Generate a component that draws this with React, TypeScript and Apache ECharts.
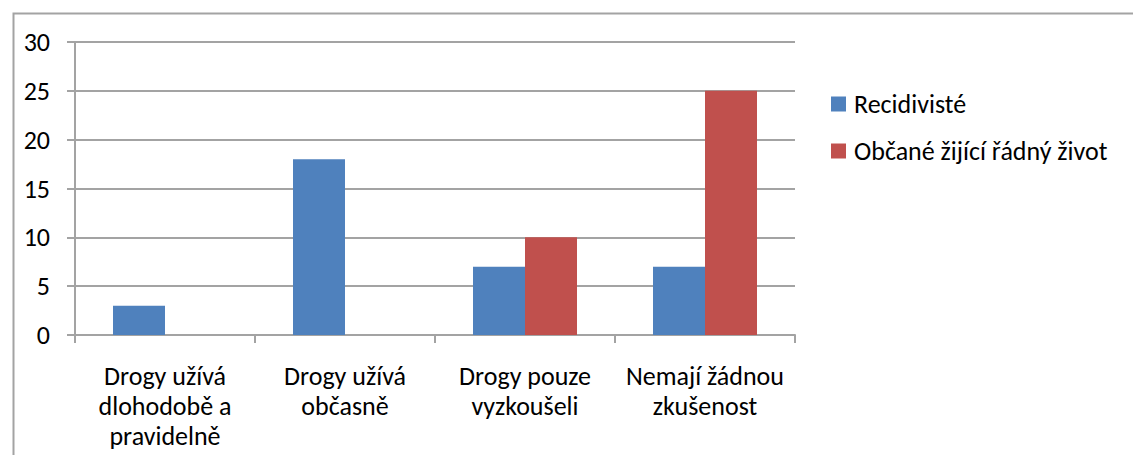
import React, { useEffect, useRef } from "react";
import * as echarts from "echarts";

const categories = [
  "Drogy užívá\ndlohodobě a\npravidelně",
  "Drogy užívá\nobčasně",
  "Drogy pouze\nvyzkoušeli",
  "Nemají žádnou\nzkušenost",
];
const recidivisteValues = [3, 18, 7, 7];
const obcaneValues = [0, 0, 10, 25];
const seriesNames = ["Recidivisté", "Občané žijící řádný život"];
const yMin = 0;
const yMax = 30;
const yInterval = 5;

const FONT = "Carlito, Calibri, Lato, sans-serif";
const GRAY = "#a3a3a3";

export default function App() {
  const ref = useRef<HTMLDivElement>(null);
  useEffect(() => {
    if (!ref.current) return;
    const chart = echarts.init(ref.current, undefined, { renderer: "svg" });
    chart.setOption({
      animation: false,
      backgroundColor: "#ffffff",
      textStyle: { fontFamily: FONT },
      grid: { left: 75, right: 338, top: 42, bottom: 120, containLabel: false },
      graphic: [
        {
          type: "rect",
          left: 11,
          top: 11,
          shape: { width: 1300, height: 700 },
          style: { fill: "none", stroke: GRAY, lineWidth: 2 },
          silent: true,
        },
      ],
      legend: {
        orient: "vertical",
        left: 826,
        top: 86,
        itemWidth: 15,
        itemHeight: 15,
        itemGap: 21,
        icon: "rect",
        data: seriesNames,
        textStyle: {
          fontFamily: FONT,
          fontSize: 26,
          color: "#000",
          lineHeight: 26,
          padding: [0, 0, 0, 3],
        },
      },
      xAxis: {
        type: "category",
        data: categories,
        axisLine: { show: true, lineStyle: { color: GRAY, width: 2 } },
        axisTick: { show: true, length: 8, lineStyle: { color: GRAY, width: 2 } },
        axisLabel: {
          interval: 0,
          margin: 26,
          fontFamily: FONT,
          fontSize: 26,
          lineHeight: 30,
          color: "#000",
          align: "center",
        },
      },
      yAxis: {
        type: "value",
        min: yMin,
        max: yMax,
        interval: yInterval,
        axisLine: { show: true, lineStyle: { color: GRAY, width: 2 } },
        axisTick: { show: true, length: 8, lineStyle: { color: GRAY, width: 2 } },
        splitLine: { show: true, lineStyle: { color: GRAY, width: 2 } },
        axisLabel: {
          margin: 25,
          fontFamily: FONT,
          fontSize: 26,
          color: "#000",
          padding: [6, 0, 0, 0],
        },
      },
      series: [
        {
          name: seriesNames[0],
          type: "bar",
          data: recidivisteValues,
          barWidth: 52,
          barGap: "0%",
          itemStyle: { color: "#4f81bd" },
        },
        {
          name: seriesNames[1],
          type: "bar",
          data: obcaneValues,
          barWidth: 52,
          barGap: "0%",
          itemStyle: { color: "#c0504d" },
        },
      ],
    });
    return () => chart.dispose();
  }, []);
  return (
    <div
      ref={ref}
      style={{ position: "fixed", left: 0, top: 0, width: 1133, height: 455, background: "#fff" }}
    />
  );
}
